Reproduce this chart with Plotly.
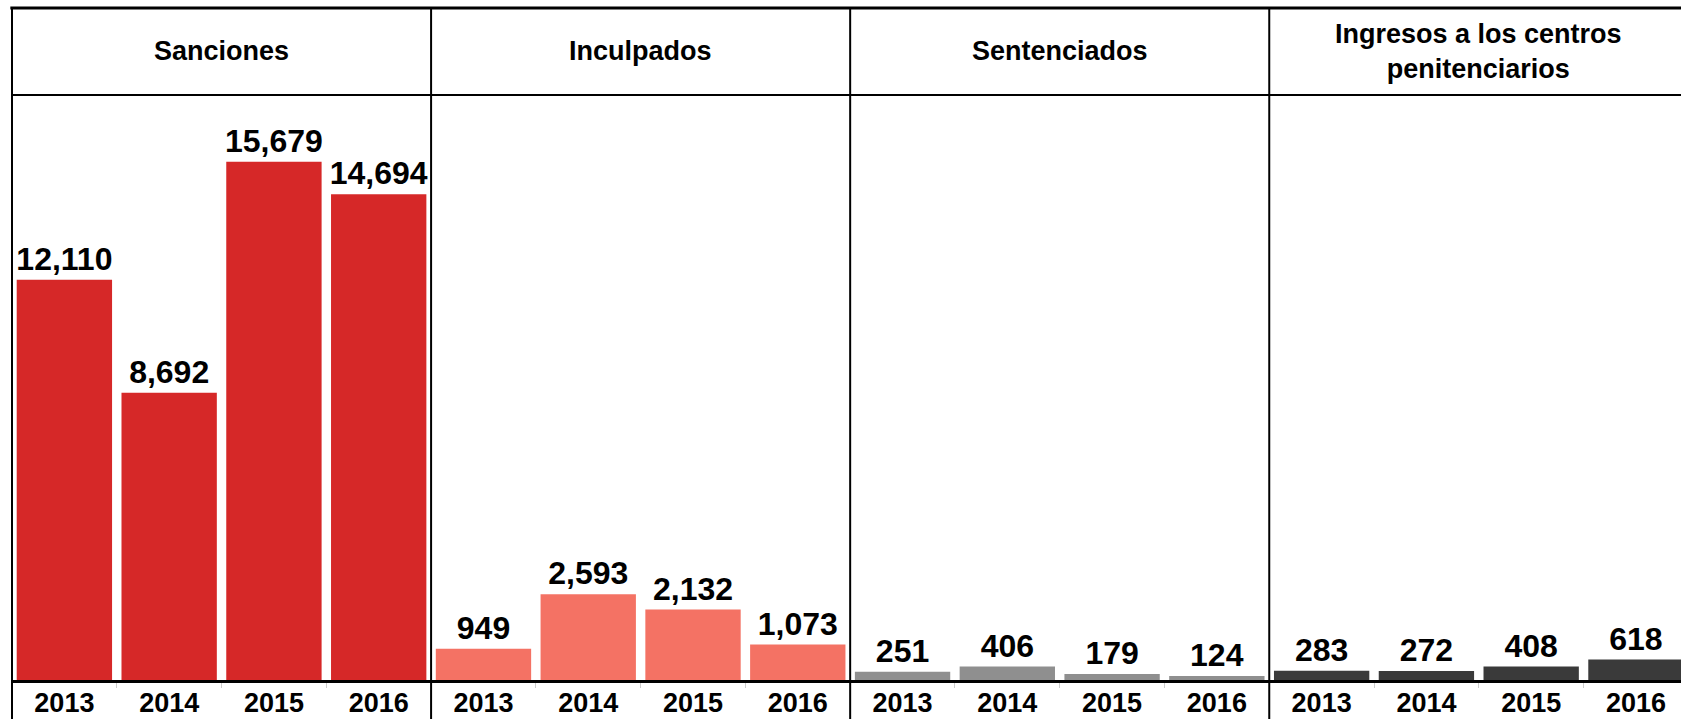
import plotly.graph_objects as go

# ---- data ----
panels = ["Sanciones", "Inculpados", "Sentenciados", "Ingresos a los centros<br>penitenciarios"]
years = ["2013", "2014", "2015", "2016"]
sanciones = [12110, 8692, 15679, 14694]
inculpados = [949, 2593, 2132, 1073]
sentenciados = [251, 406, 179, 124]
ingresos = [283, 272, 408, 618]
panel_colors = ["#D62828", "#F47264", "#8F8F8F", "#3A3A3A"]

series = [sanciones, inculpados, sentenciados, ingresos]

W, H = 1681, 719
ML, MR, MT, MB = 12, 0, 8, 39
plot_h = H - MT - MB
X0, X1 = -0.5, 15.43
Y_MAX = 20330
HEADER_Y = 95  # pixel y of header divider

x_vals, y_vals, colors, tick_text = [], [], [], []
for p, vals in enumerate(series):
    for i, v in enumerate(vals):
        x_vals.append(p * len(years) + i)
        y_vals.append(v)
        colors.append(panel_colors[p])
        tick_text.append(years[i])

FONT = "Liberation Sans, Arial, Helvetica, sans-serif"

fig = go.Figure(go.Bar(
    x=x_vals, y=y_vals,
    marker=dict(color=colors, line=dict(width=0)),
    texttemplate="<b>%{y:,}</b>",
    textposition="outside",
    constraintext="none",
    cliponaxis=False,
    textfont=dict(family=FONT, size=32, color="#000000"),
    hoverinfo="skip",
))

def px_x(v):
    return (v - X0) / (X1 - X0)

def px_y(py):
    return (H - MB - py) / plot_h

shapes = []
n = len(years)
for p in range(len(panels)):
    xb = px_x(p * n - 0.5)
    shapes.append(dict(type="line", xref="paper", yref="paper",
                       x0=xb, x1=xb, y0=-MB / plot_h, y1=1,
                       line=dict(color="#000000", width=2)))
shapes.append(dict(type="line", xref="paper", yref="paper", x0=-0.001, x1=1.0, y0=1, y1=1,
                   line=dict(color="#000000", width=3)))
hy = px_y(HEADER_Y)
shapes.append(dict(type="line", xref="paper", yref="paper", x0=0, x1=1.0, y0=hy, y1=hy,
                   line=dict(color="#000000", width=2)))

annotations = []
for p, title in enumerate(panels):
    xc = px_x(p * n + (n - 1) / 2)
    annotations.append(dict(
        xref="paper", yref="paper", x=xc, y=(1 + hy) / 2,
        text="<b>" + title + "</b>", showarrow=False,
        xanchor="center", yanchor="middle",
        font=dict(family=FONT, size=27, color="#000000"),
    ))

fig.update_layout(
    template="none",
    width=W, height=H,
    margin=dict(l=ML, r=MR, t=MT, b=MB, autoexpand=False),
    paper_bgcolor="#FFFFFF", plot_bgcolor="#FFFFFF",
    bargap=0.09,
    showlegend=False,
    shapes=shapes,
    annotations=annotations,
    xaxis=dict(
        range=[X0, X1], automargin=False,
        tickmode="array", tickvals=x_vals, ticktext=["<b>" + t + "</b>" for t in tick_text],
        ticks="", showgrid=False, zeroline=False,
        showline=True, linecolor="#000000", linewidth=3,
        tickfont=dict(family=FONT, size=27, color="#000000"),
        tickangle=0, ticklabelstandoff=-3,
        minor=dict(tickmode="array", tickvals=[v + 0.5 for v in x_vals],
                   ticks="outside", ticklen=5, tickcolor="#CCCCCC", tickwidth=1, showgrid=False),
        fixedrange=True,
    ),
    yaxis=dict(range=[0, Y_MAX], visible=False, showgrid=False, zeroline=False,
               automargin=False, fixedrange=True),
)

fig.write_html(
    "out.html",
    config={"displayModeBar": False},
    post_script="document.body.style.margin='0';document.body.style.overflow='hidden';",
)
